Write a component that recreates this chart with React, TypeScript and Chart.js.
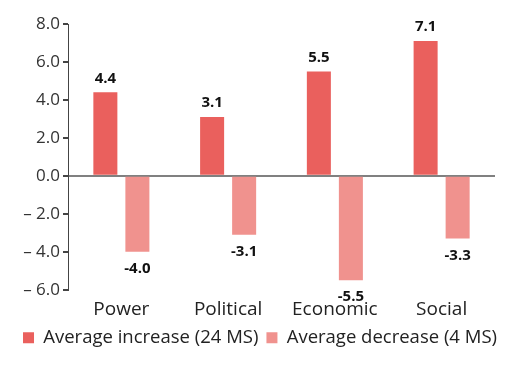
import React, { useEffect, useRef } from "react";
import { Chart, registerables } from "chart.js";

Chart.register(...registerables);

const categories = ["Power", "Political", "Economic", "Social"];
const increaseValues = [4.4, 3.1, 5.5, 7.1];
const decreaseValues = [-4.0, -3.1, -5.5, -3.3];
const seriesNames = ["Average increase (24 MS)", "Average decrease (4 MS)"];
const increaseColor = "rgb(234,96,93)";
const decreaseColor = "rgb(240,146,142)";
const FONT = "'Open Sans', 'Noto Sans', sans-serif";

const valueLabels = {
  id: "valueLabels",
  afterDatasetsDraw(chart: any) {
    const ctx = chart.ctx;
    ctx.save();
    ctx.font = `bold 15px ${FONT}`;
    ctx.fillStyle = "#111";
    ctx.textAlign = "center";
    ctx.textBaseline = "middle";
    chart.data.datasets.forEach((ds: any, i: number) => {
      const meta = chart.getDatasetMeta(i);
      meta.data.forEach((bar: any, j: number) => {
        const v = ds.data[j];
        const y = v >= 0 ? bar.y - 14 : bar.y + 17;
        ctx.fillText(v.toFixed(1), bar.x, y);
      });
    });
    ctx.restore();
  },
};

export default function App() {
  const ref = useRef<HTMLCanvasElement>(null);
  useEffect(() => {
    const chart = new Chart(ref.current!, {
      type: "bar",
      data: {
        labels: categories,
        datasets: [
          {
            label: seriesNames[0],
            data: increaseValues,
            backgroundColor: increaseColor,
            barPercentage: 0.75,
            categoryPercentage: 0.6,
          },
          {
            label: seriesNames[1],
            data: decreaseValues,
            backgroundColor: decreaseColor,
            barPercentage: 0.75,
            categoryPercentage: 0.6,
          },
        ],
      },
      options: {
        animation: false,
        responsive: false,
        layout: { padding: { top: 24, right: 0, left: 0, bottom: 13 } },
        plugins: {
          legend: {
            position: "bottom",
            labels: {
              boxWidth: 11,
              boxHeight: 11,
              color: "#222",
              font: { family: FONT, size: 18.5 },
              padding: 8,
            },
          },
          tooltip: { enabled: false },
        },
        scales: {
          x: {
            grid: { display: false },
            border: { display: false },
            ticks: { color: "#222", font: { family: FONT, size: 19 }, padding: 0 },
          },
          y: {
            min: -6,
            max: 8,
            afterFit: (s: any) => {
              s.width = 68;
            },
            ticks: {
              stepSize: 2,
              color: "#333",
              font: { family: FONT, size: 17 },
              padding: 3,
              callback: (v: any) =>
                v < 0 ? "\u2013 " + Math.abs(v).toFixed(1) : Number(v).toFixed(1),
            },
            grid: {
              color: (c: any) => (c.tick && c.tick.value === 0 ? "#808080" : "rgba(0,0,0,0)"),
              tickColor: "#444",
              tickLength: 5,
              lineWidth: 2,
            },
            border: { display: true, color: "#444", width: 1 },
          },
          yRight: {
            position: "right",
            display: true,
            afterFit: (s: any) => {
              s.width = 25;
            },
            ticks: { display: false },
            grid: { display: false, drawTicks: false },
            border: { display: false },
          },
        },
      },
      plugins: [valueLabels],
    });
    return () => chart.destroy();
  }, []);
  return (
    <div style={{ position: "absolute", left: 0, top: 0, width: 520, height: 370, background: "#fff" }}>
      <canvas ref={ref} width={520} height={370} />
    </div>
  );
}
